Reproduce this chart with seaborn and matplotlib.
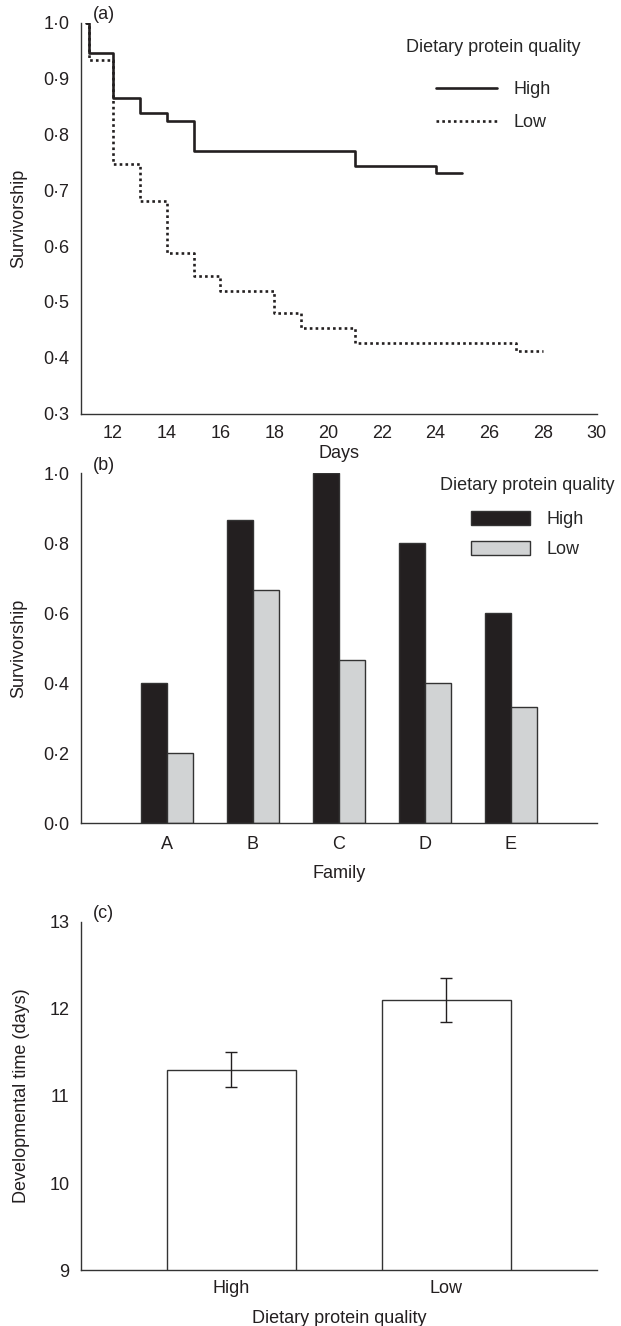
import matplotlib
matplotlib.use("Agg")
import matplotlib.pyplot as plt
import matplotlib.ticker as mticker
import pandas as pd
import seaborn as sns

sns.set_theme(style="white")
plt.rcParams["font.family"] = ["Liberation Sans", "DejaVu Sans"]

# (a) survivorship curves over days
high_days = [11.0, 11.1, 12, 13, 14, 15, 21, 24, 25]
high_surv = [1.0, 0.946, 0.865, 0.838, 0.824, 0.770, 0.743, 0.730, 0.730]
low_days = [11.0, 11.1, 12, 13, 14, 15, 16, 18, 19, 21, 27, 28]
low_surv = [1.0, 0.933, 0.747, 0.680, 0.587, 0.547, 0.520, 0.480, 0.453, 0.427, 0.413, 0.413]

# (b) survivorship by family
families = ["A", "B", "C", "D", "E"]
fam_high = [0.400, 0.867, 1.000, 0.800, 0.600]
fam_low = [0.200, 0.667, 0.467, 0.400, 0.333]

# (c) developmental time
quality = ["High", "Low"]
dev_time = [11.3, 12.1]
dev_err = [0.2, 0.25]

INK = "#231f20"
GREY = "#d1d3d4"
FS = 13


def dot_fmt(v, pos):
    return f"{v:.1f}".replace(".", "\u00b7")


def style_axes(ax):
    for side in ["top", "right"]:
        ax.spines[side].set_visible(False)
    for side in ["left", "bottom"]:
        ax.spines[side].set_color("#333333")
        ax.spines[side].set_linewidth(1.0)
    ax.tick_params(axis="both", direction="in", length=5, width=1.0, color="#333333",
                   labelsize=FS, labelcolor=INK, pad=8)


def panel_label(ax, text):
    ax.annotate(text, xy=(0, 1), xycoords="axes fraction", xytext=(9, 6),
                textcoords="offset points", fontsize=FS, color=INK, va="center")


fig = plt.figure(figsize=(6.21, 13.26), dpi=100)

# ---- panel (a)
ax1 = fig.add_axes([0.130, 0.688, 0.831, 0.295])
surv = pd.concat([
    pd.DataFrame({"Days": high_days, "Survivorship": high_surv, "Quality": "High"}),
    pd.DataFrame({"Days": low_days, "Survivorship": low_surv, "Quality": "Low"}),
])
sns.lineplot(data=surv, x="Days", y="Survivorship", hue="Quality", style="Quality",
             palette=[INK, INK], dashes={"High": "", "Low": (1, 1.2)},
             drawstyle="steps-post", linewidth=1.9, ax=ax1)
ax1.set_xlim(10.8, 30)
ax1.set_ylim(0.3, 1.0)
ax1.set_xticks(range(12, 31, 2))
ax1.set_yticks([0.3, 0.4, 0.5, 0.6, 0.7, 0.8, 0.9, 1.0])
ax1.yaxis.set_major_formatter(mticker.FuncFormatter(dot_fmt))
style_axes(ax1)
ax1.tick_params(axis="x", pad=8)
ax1.set_xlabel("Days", fontsize=FS, color=INK, labelpad=2)
ax1.set_ylabel("Survivorship", fontsize=FS, color=INK, labelpad=12)
panel_label(ax1, "(a)")
leg1 = ax1.legend(title="Dietary protein quality", loc="upper right",
                  bbox_to_anchor=(0.99, 0.985), frameon=False, fontsize=FS,
                  title_fontsize=FS, handlelength=3.4, labelspacing=0.9,
                  handletextpad=0.9, borderaxespad=0.2)
leg1._legend_box.sep = 18

# ---- panel (b)
ax2 = fig.add_axes([0.130, 0.379, 0.831, 0.264])
fam = pd.concat([
    pd.DataFrame({"Family": families, "Survivorship": fam_high, "Quality": "High"}),
    pd.DataFrame({"Family": families, "Survivorship": fam_low, "Quality": "Low"}),
])
sns.barplot(data=fam, x="Family", y="Survivorship", hue="Quality", palette=[INK, GREY],
            width=0.6, edgecolor="#333333", linewidth=1.0, saturation=1, ax=ax2)
ax2.set_xlim(-1, 5)
ax2.set_ylim(0, 1.0)
ax2.set_yticks([0, 0.2, 0.4, 0.6, 0.8, 1.0])
ax2.yaxis.set_major_formatter(mticker.FuncFormatter(dot_fmt))
style_axes(ax2)
ax2.tick_params(axis="x", length=0, pad=9)
ax2.set_xlabel("Family", fontsize=FS, color=INK, labelpad=9)
ax2.set_ylabel("Survivorship", fontsize=FS, color=INK, labelpad=12)
panel_label(ax2, "(b)")
leg2 = ax2.legend(title="Dietary protein quality", loc="upper right",
                  bbox_to_anchor=(1.055, 1.02), frameon=False, fontsize=FS,
                  title_fontsize=FS, handlelength=3.3, handleheight=0.8,
                  labelspacing=0.7, handletextpad=0.9, borderaxespad=0.2)
leg2._legend_box.sep = 12

# ---- panel (c)
ax3 = fig.add_axes([0.130, 0.042, 0.831, 0.263])
sns.barplot(x=quality, y=dev_time, color="white", width=0.6, edgecolor="#333333",
            linewidth=1.0, saturation=1, ax=ax3)
ax3.errorbar(quality, dev_time, yerr=dev_err, fmt="none", ecolor=INK, elinewidth=1.0,
             capsize=4, capthick=1.0)
ax3.set_xlim(-0.7, 1.7)
ax3.set_ylim(9, 13)
ax3.set_yticks([9, 10, 11, 12, 13])
style_axes(ax3)
ax3.tick_params(axis="x", length=0, pad=7)
ax3.set_xlabel("Dietary protein quality", fontsize=FS, color=INK, labelpad=9)
ax3.set_ylabel("Developmental time (days)", fontsize=FS, color=INK, labelpad=14)
panel_label(ax3, "(c)")

fig.savefig("out.png", dpi=100)
